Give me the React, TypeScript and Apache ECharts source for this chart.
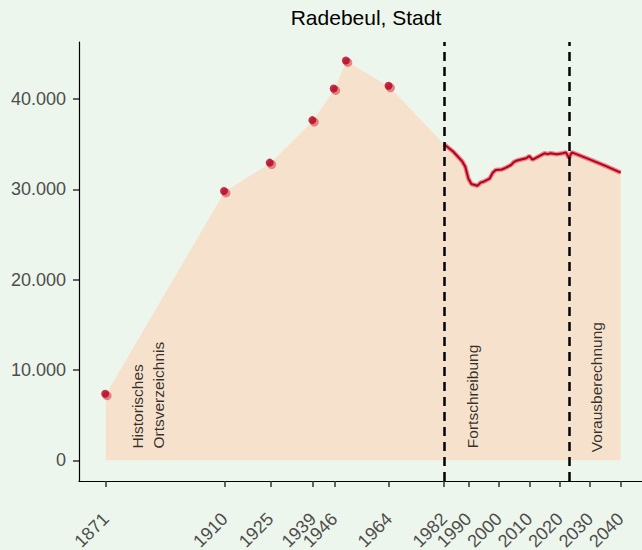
import React, { useEffect, useRef } from "react";
import * as echarts from "echarts";

const histYears = [1871, 1910, 1925, 1939, 1946, 1950, 1964];
const histValues = [7300, 29750, 32900, 37600, 41100, 44200, 41400];

const fortYears = [1982, 1985, 1988, 1989, 1990, 1991, 1993, 1994, 1995, 1997, 1998, 1999, 2001, 2002, 2004, 2005, 2006, 2009, 2010, 2011, 2012, 2015, 2016, 2017, 2019, 2021, 2022, 2023, 2024, 2030, 2035, 2040];
const fortValues = [35000, 34200, 33100, 32500, 31200, 30600, 30400, 30750, 30850, 31200, 31850, 32150, 32200, 32350, 32700, 33050, 33200, 33450, 33700, 33300, 33450, 34000, 33900, 34000, 33900, 34000, 34100, 33500, 34100, 33300, 32600, 31850];

const xTickYears = [1871, 1910, 1925, 1939, 1946, 1964, 1982, 1990, 2000, 2010, 2020, 2030, 2040];
const yTickValues = [0, 10000, 20000, 30000, 40000];
const dashYears = [1982, 2023];

const annotations = [
  { x: 1885, y: 1300, text: "Historisches\nOrtsverzeichnis" },
  { x: 1991.5, y: 1350, text: "Fortschreibung" },
  { x: 2032, y: 900, text: "Vorausberechnung" },
];

const title = "Radebeul, Stadt";

export default function App() {
  const ref = useRef<HTMLDivElement>(null);
  useEffect(() => {
    document.body.style.margin = "0";
    const chart = echarts.init(ref.current!, null, { renderer: "svg" });
    const font = "Liberation Sans, Arial, sans-serif";
    const histPairs = histYears.map((y, i) => [y, histValues[i]]);
    const fortPairs = fortYears.map((y, i) => [y, fortValues[i]]);
    chart.setOption({
      animation: false,
      backgroundColor: "#EDF6EC",
      title: {
        text: title,
        left: 361,
        top: 2,
        textAlign: "center",
        textStyle: { fontFamily: font, fontSize: 21, fontWeight: "normal", color: "#000" },
      },
      grid: { left: 79, right: 0, top: 42, bottom: 69, containLabel: false, outerBoundsMode: "none" },
      xAxis: {
        type: "value",
        min: 1862.2,
        max: 2047,
        splitLine: { show: false },
        axisLine: { show: true, onZero: false, lineStyle: { color: "#000", width: 1.2 } },
        axisTick: { show: true, customValues: xTickYears, length: 6, lineStyle: { color: "#333", width: 1.5 } },
        axisLabel: {
          customValues: xTickYears,
          rotate: 45,
          margin: 35,
          fontSize: 18,
          fontFamily: font,
          color: "#4d4d4d",
          formatter: (v: number) => String(v),
        },
      },
      yAxis: {
        type: "value",
        min: -2290,
        max: 46320,
        splitLine: { show: false },
        axisLine: { show: true, onZero: false, lineStyle: { color: "#000", width: 1.2 } },
        axisTick: { show: true, customValues: yTickValues, length: 6, lineStyle: { color: "#333", width: 1.5 } },
        axisLabel: {
          customValues: yTickValues,
          margin: 13,
          fontSize: 18,
          fontFamily: font,
          color: "#4d4d4d",
          formatter: (v: number) => (v === 0 ? "0" : v / 1000 + ".000"),
        },
      },
      series: [
        {
          type: "line",
          data: [...histPairs, ...fortPairs],
          symbol: "none",
          lineStyle: { width: 0 },
          areaStyle: { color: "#F6E2CC", opacity: 1, origin: 0 },
          z: 1,
        },
        {
          type: "line",
          data: fortPairs,
          symbol: "none",
          lineStyle: { color: "rgba(222,90,100,0.7)", width: 4.5 },
          z: 2,
        },
        {
          type: "line",
          data: fortPairs,
          symbol: "none",
          lineStyle: { color: "#B5001F", width: 2 },
          z: 3,
        },
        {
          type: "scatter",
          data: histPairs,
          symbolSize: 9,
          symbolOffset: [1.3, 1.3],
          itemStyle: { color: "#DB6A70" },
          z: 5,
        },
        {
          type: "scatter",
          data: histPairs,
          symbolSize: 8,
          symbolOffset: [-0.6, -0.6],
          itemStyle: { color: "#B5001F" },
          z: 6,
        },
        {
          type: "line",
          data: [],
          z: 4,
          markLine: {
            silent: true,
            symbol: ["none", "none"],
            label: { show: false },
            lineStyle: { color: "#000", type: [9, 6], width: 2.5 },
            data: dashYears.map((y) => ({ xAxis: y })),
          },
        },
        {
          type: "scatter",
          symbolSize: 0,
          z: 7,
          data: annotations.map((a) => ({ value: [a.x, a.y], text: a.text })),
          label: {
            show: true,
            position: "inside",
            rotate: 90,
            align: "left",
            verticalAlign: "middle",
            fontSize: 15.5,
            lineHeight: 21,
            fontFamily: font,
            color: "#000",
            formatter: (p: any) => p.data.text,
          },
        },
      ],
    });
    return () => chart.dispose();
  }, []);
  return <div ref={ref} style={{ position: "fixed", left: 0, top: 0, width: 642, height: 550 }} />;
}
